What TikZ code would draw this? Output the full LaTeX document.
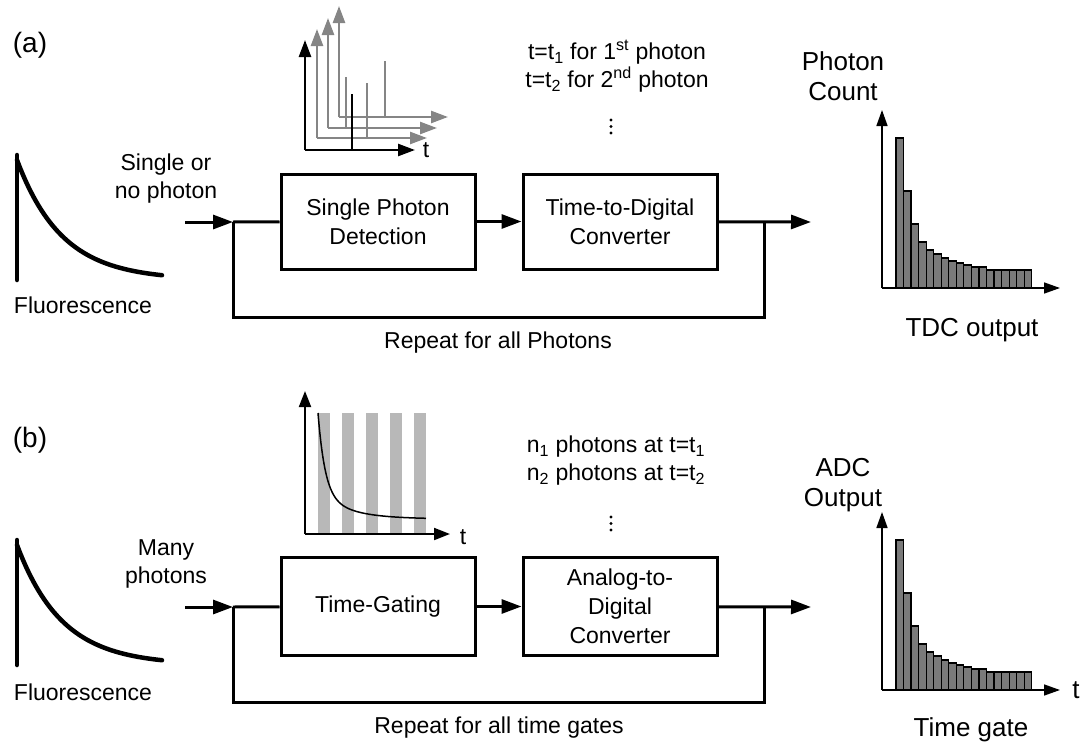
\documentclass[tikz,border=0pt]{standalone}
\usepackage{fontspec}
\setmainfont{Liberation Sans}
\usetikzlibrary{arrows.meta}
\tikzset{
  lbl/.style={inner sep=0pt, align=center, font=\fontsize{23}{28}\selectfont},
  biglbl/.style={inner sep=0pt, align=center, font=\fontsize{26}{30}\selectfont},
  tag/.style={inner sep=0pt, font=\fontsize{28}{32}\selectfont},
  blockbox/.style={draw, line width=3pt, minimum width=194pt, minimum height=95pt,
    inner sep=0pt, align=center, font=\fontsize{23}{29}\selectfont},
  wire/.style={line width=3pt},
  flow/.style={line width=3pt, -{Triangle[length=20pt,width=14pt]}},
  decay/.style={line width=4.5pt, line cap=round},
  spikeaxis/.style={line width=2.5pt, -{Triangle[length=17pt,width=12pt]}},
  smallaxis/.style={line width=2pt, -{Triangle[length=16pt,width=12pt]}},
  histaxis/.style={line width=1.5pt, -{Triangle[length=16pt,width=11pt]}},
  histbar/.style={draw=black, fill=black!52, line width=1.2pt},
  gatebar/.style={fill=black!28},
}
\definecolor{spikegray}{gray}{0.52}
% decay curve of the fluorescence
\def\drawDecay{
\draw[decay] (17,155) -- (17,280);
\draw[decay] plot[domain=17:162, samples=50, smooth] (\x, {280-120*exp(-(\x-17)/45)});
}
% histogram with its two axes, origin at (0,0)
\def\drawHisto{
\foreach \h [count=\i from 0] in {150,97,64,46,38,34,30,27,25,23,21,21,18,18,18,18,18,18}
  \draw[histbar] ({14+7.54*\i},0) rectangle ++(7.54,-\h);
\draw[histaxis] (0,0) -- (0,-178);
\draw[histaxis] (0,0) -- (178,0);
}
% three dots going down
\def\drawVdots{
\foreach \dy in {0,6.5,13}
  \fill (0,\dy) circle (1.7);
}

\begin{document}
\begin{tikzpicture}[x=1pt, y=-1pt]
  \useasboundingbox (0,0) rectangle (1082,744);

  % (a) counting single photons
  \node[tag] (taga) at (30,45) {(a)};
  \drawDecay
  \node[lbl] (fluoa) at (83,305) {Fluorescence};
  \node[lbl] (ina) at (166,179) {Single or\\no photon};

  \draw[spikeaxis, spikegray] (339,117) -- (339,6);
  \draw[spikeaxis, spikegray] (339,117) -- (448,117);
  \draw[line width=2.5pt, spikegray] (385,117) -- (385,61);
  \draw[spikeaxis, spikegray] (328,128) -- (328,18);
  \draw[spikeaxis, spikegray] (328,128) -- (437,128);
  \draw[line width=2.5pt, spikegray] (346,128) -- (346,77);
  \draw[spikeaxis, spikegray] (317,138) -- (317,29);
  \draw[spikeaxis, spikegray] (317,138) -- (427,138);
  \draw[line width=2.5pt, spikegray] (367,138) -- (367,83);
  \draw[spikeaxis] (305,150) -- (305,40);
  \draw[spikeaxis] (305,150) -- (415,150);
  \draw[line width=2.5pt] (352,150) -- (352,94);
  \node[lbl] (ta) at (426,150) {t};

  \node[lbl] (tinfo) at (617,66)
    {t=t\textsubscript{1} for 1\textsuperscript{st} photon\\t=t\textsubscript{2} for 2\textsuperscript{nd} photon};
  \begin{scope}[shift={(611,120)}]
    \drawVdots
  \end{scope}

  \node[blockbox] (spd) at (378,221.5) {Single Photon\\Detection};
  \node[blockbox] (tdc) at (620,221.5) {Time-to-Digital\\Converter};
  \coordinate (srca) at (185,222);
  \coordinate (joina) at (233,222);
  \coordinate (splita) at (764,222);
  \coordinate (enda) at (811,222);
  \draw[flow] (srca) -- (joina);
  \draw[wire] (joina) -- (spd);
  \draw[flow] (spd) -- (tdc);
  \draw[flow] (tdc) -- (enda);
  \draw[wire] (splita) -- ++(0,95) -| (joina);
  \node[lbl] (repa) at (498,343) {Repeat for all Photons};

  \begin{scope}[shift={(882,288)}]
    \drawHisto
  \end{scope}
  \node[biglbl] (counta) at (843,76) {Photon\\Count};
  \node[biglbl] (outa) at (972,330) {TDC output};

  % (b) time gating
  \node[tag] (tagb) at (30,440) {(b)};
  \begin{scope}[shift={(0,385)}]
    \drawDecay
  \end{scope}
  \node[lbl] (fluob) at (83,692) {Fluorescence};
  \node[lbl] (inb) at (166,564) {Many\\photons};

  \foreach \gx in {318,342,366,390,414}
    \fill[gatebar] (\gx,413) rectangle ++(12,121);
  \draw[line width=1.5pt] plot[domain=318:426, samples=80, smooth]
    (\x, {519-80*exp(-(\x-318)/7)-26*exp(-(\x-318)/30)});
  \draw[smallaxis] (305,534) -- (305,391);
  \draw[smallaxis] (305,534) -- (450,534);
  \node[lbl] (tb) at (463,537) {t};

  \node[lbl] (ninfo) at (616,461)
    {n\textsubscript{1} photons at t=t\textsubscript{1}\\n\textsubscript{2} photons at t=t\textsubscript{2}};
  \begin{scope}[shift={(611,517)}]
    \drawVdots
  \end{scope}

  \node[blockbox, minimum height=98pt] (tg) at (378,606.5) {Time-Gating};
  \node[blockbox, minimum height=98pt] (adc) at (620,606.5) {Analog-to-\\Digital\\Converter};
  \coordinate (srcb) at (185,607);
  \coordinate (joinb) at (233,607);
  \coordinate (splitb) at (764,607);
  \coordinate (endb) at (811,607);
  \draw[flow] (srcb) -- (joinb);
  \draw[wire] (joinb) -- (tg);
  \draw[flow] (tg) -- (adc);
  \draw[flow] (adc) -- (endb);
  \draw[wire] (splitb) -- ++(0,95) -| (joinb);
  \node[lbl] (repb) at (499,728) {Repeat for all time gates};

  \begin{scope}[shift={(882,690)}]
    \drawHisto
  \end{scope}
  \node[biglbl] (countb) at (843,485) {ADC\\Output};
  \node[biglbl] (th) at (1076,690) {t};
  \node[biglbl] (outb) at (971,730) {Time gate};
\end{tikzpicture}
\end{document}
